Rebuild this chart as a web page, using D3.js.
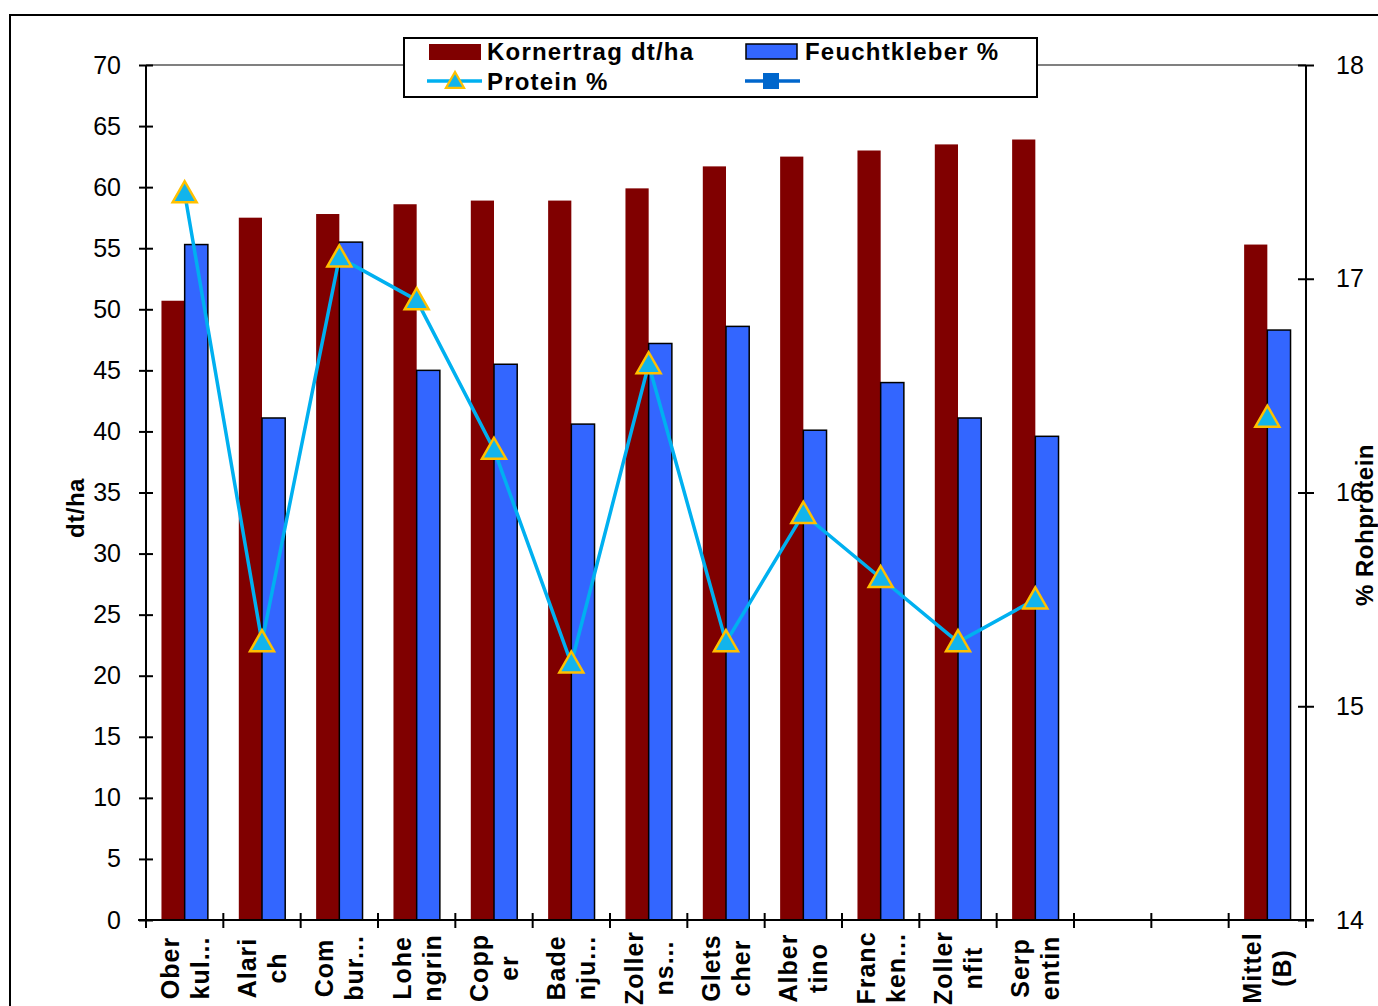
<!DOCTYPE html>
<html>
<head>
<meta charset="utf-8">
<script src="https://cdn.jsdelivr.net/npm/d3@7"></script>
<style>
body { margin: 0; background: #fff; }
text { font-family: "Liberation Sans", Arial, sans-serif; }
</style>
</head>
<body>
<svg id="chart" width="1378" height="1006"></svg>
<script>
// labels, two lines each ("|" splits), two empty slots before the mean
const categories = ["Ober|kul...", "Alari|ch", "Com|bur...", "Lohe|ngrin", "Copp|er", "Bade|nju...",
	"Zoller|ns...", "Glets|cher", "Alber|tino", "Franc|ken...", "Zoller|nfit", "Serp|entin", "", "", "Mittel|(B)"];
const kornertrag = [50.7, 57.5, 57.8, 58.6, 58.9, 58.9, 59.9, 61.7, 62.5, 63.0, 63.5, 63.9, null, null, 55.3];
const feuchtkleber = [55.3, 41.1, 55.5, 45.0, 45.5, 40.6, 47.2, 48.6, 40.1, 44.0, 41.1, 39.6, null, null, 48.3];
const protein = [17.4, 15.3, 17.1, 16.9, 16.2, 15.2, 16.6, 15.3, 15.9, 15.6, 15.3, 15.5, null, null, 16.35];
const leftTicks = [0, 5, 10, 15, 20, 25, 30, 35, 40, 45, 50, 55, 60, 65, 70];
const rightTicks = [14, 15, 16, 17, 18];

const chart = d3.select("#chart");
const pLeft = 146, pRight = 1306, pTop = 65, pBottom = 920;

const idx = categories.map((d, i) => i);
const x = d3.scaleBand().domain(idx).range([pLeft, pRight]).paddingInner(0.4).paddingOuter(0.2);
const step = x.step();
const xSub = d3.scaleBand().domain([0, 1]).range([0, x.bandwidth()]);
const y = d3.scaleLinear().domain([0, 70]).range([pBottom, pTop]);
const y2 = d3.scaleLinear().domain([14, 18]).range([pBottom, pTop]);

// outer frame
chart.append("path").attr("d", "M10,1006 V15 H1378").attr("fill", "none")
	.attr("stroke", "#000").attr("stroke-width", 2);

// top plot border
chart.append("line").attr("x1", pLeft).attr("x2", pRight).attr("y1", pTop).attr("y2", pTop)
	.attr("stroke", "#808080").attr("stroke-width", 2);

// bars
chart.append("g").selectAll("rect").data(idx.filter(i => kornertrag[i] != null)).join("rect")
	.attr("x", i => x(i) + xSub(0))
	.attr("y", i => y(kornertrag[i]))
	.attr("width", xSub.bandwidth())
	.attr("height", i => y(0) - y(kornertrag[i]))
	.attr("fill", "#800000");
chart.append("g").selectAll("rect").data(idx.filter(i => feuchtkleber[i] != null)).join("rect")
	.attr("x", i => x(i) + xSub(1))
	.attr("y", i => y(feuchtkleber[i]))
	.attr("width", xSub.bandwidth())
	.attr("height", i => y(0) - y(feuchtkleber[i]))
	.attr("fill", "#3366ff")
	.attr("stroke", "#000").attr("stroke-width", 1.5);

// protein line
const line = d3.line()
	.defined(i => protein[i] != null)
	.x(i => x(i) + x.bandwidth() / 2)
	.y(i => y2(protein[i]));
chart.append("path").datum(idx).attr("d", line)
	.attr("fill", "none").attr("stroke", "#00b0f0").attr("stroke-width", 3.5);

const tri = "M0,-12L12,9L-12,9Z";
chart.append("g").selectAll("path").data(idx.filter(i => protein[i] != null)).join("path")
	.attr("transform", i => `translate(${x(i) + x.bandwidth() / 2},${y2(protein[i])})`)
	.attr("d", tri)
	.attr("fill", "#12b4ec").attr("stroke", "#ffc000").attr("stroke-width", 2.5);

// axes
const axL = chart.append("g").attr("transform", `translate(${pLeft},0)`)
	.call(d3.axisLeft(y).tickValues(leftTicks).tickSize(7).tickPadding(18));
const axR = chart.append("g").attr("transform", `translate(${pRight},0)`)
	.call(d3.axisRight(y2).tickValues(rightTicks).tickFormat(d3.format("d")).tickSize(8).tickPadding(22));
[axL, axR].forEach(ax => {
	ax.select(".domain").attr("stroke", "#000").attr("stroke-width", 2);
	ax.selectAll(".tick line").attr("stroke", "#000").attr("stroke-width", 2);
	ax.selectAll(".tick text").attr("font-size", 25).attr("fill", "#000")
		.style("font-family", "'Liberation Sans', Arial, sans-serif");
});
// ticks crossing the axis
axL.selectAll(".tick").append("line").attr("x2", 7).attr("stroke", "#000").attr("stroke-width", 2);
axR.selectAll(".tick").append("line").attr("x2", -8).attr("stroke", "#000").attr("stroke-width", 2);
axL.select(".domain").attr("d", `M0,${pTop}V${pBottom}`);
axR.select(".domain").attr("d", `M0,${pTop}V${pBottom}`);

// bottom axis
chart.append("line").attr("x1", pLeft - 8).attr("x2", pRight + 8).attr("y1", pBottom).attr("y2", pBottom)
	.attr("stroke", "#000").attr("stroke-width", 2);
chart.append("g").selectAll("line").data(d3.range(categories.length + 1)).join("line")
	.attr("x1", k => pLeft + k * step).attr("x2", k => pLeft + k * step)
	.attr("y1", pBottom - 7).attr("y2", pBottom + 8)
	.attr("stroke", "#000").attr("stroke-width", 2);

// category labels
const lab = chart.append("g").selectAll("text").data(idx.filter(i => categories[i] !== "")).join("text")
	.attr("transform", i => `translate(${x(i) + x.bandwidth() / 2},968) rotate(-90)`)
	.attr("text-anchor", "middle")
	.attr("font-size", 25).attr("font-weight", "bold").attr("letter-spacing", 1);
lab.selectAll("tspan").data(i => categories[i].split("|")).join("tspan")
	.attr("x", 0)
	.attr("y", (d, j) => j === 0 ? -6 : 24)
	.text(d => d);

// axis titles
chart.append("text").attr("transform", "translate(84,508) rotate(-90)")
	.attr("text-anchor", "middle").attr("font-size", 24).attr("font-weight", "bold")
	.attr("letter-spacing", 0.5).text("dt/ha");
chart.append("text").attr("transform", "translate(1373,525) rotate(-90)")
	.attr("text-anchor", "middle").attr("font-size", 24).attr("font-weight", "bold")
	.attr("letter-spacing", 0.5).text("% Rohprotein");

// legend
const lg = chart.append("g");
lg.append("rect").attr("x", 404).attr("y", 38).attr("width", 633).attr("height", 59)
	.attr("fill", "#fff").attr("stroke", "#000").attr("stroke-width", 2);
lg.append("rect").attr("x", 429).attr("y", 44).attr("width", 52).attr("height", 16).attr("fill", "#800000");
lg.append("rect").attr("x", 746).attr("y", 44).attr("width", 51).attr("height", 15)
	.attr("fill", "#3366ff").attr("stroke", "#000").attr("stroke-width", 1.5);
lg.append("line").attr("x1", 427).attr("x2", 482).attr("y1", 81).attr("y2", 81)
	.attr("stroke", "#00b0f0").attr("stroke-width", 3.5);
lg.append("path").attr("transform", "translate(455,81) scale(0.75)").attr("d", tri)
	.attr("fill", "#12b4ec").attr("stroke", "#ffc000").attr("stroke-width", 3);
lg.append("line").attr("x1", 745).attr("x2", 800).attr("y1", 81).attr("y2", 81)
	.attr("stroke", "#0066cc").attr("stroke-width", 3.5);
lg.append("rect").attr("x", 763).attr("y", 73).attr("width", 16).attr("height", 16).attr("fill", "#0066cc");
const lt = [["Kornertrag dt/ha", 487, 60], ["Feuchtkleber %", 805, 60], ["Protein %", 487, 90]];
lg.selectAll("text.lt").data(lt).join("text").attr("class", "lt")
	.attr("x", d => d[1]).attr("y", d => d[2])
	.attr("font-size", 24).attr("font-weight", "bold").attr("letter-spacing", 1.2)
	.text(d => d[0]);
</script>
</body>
</html>
